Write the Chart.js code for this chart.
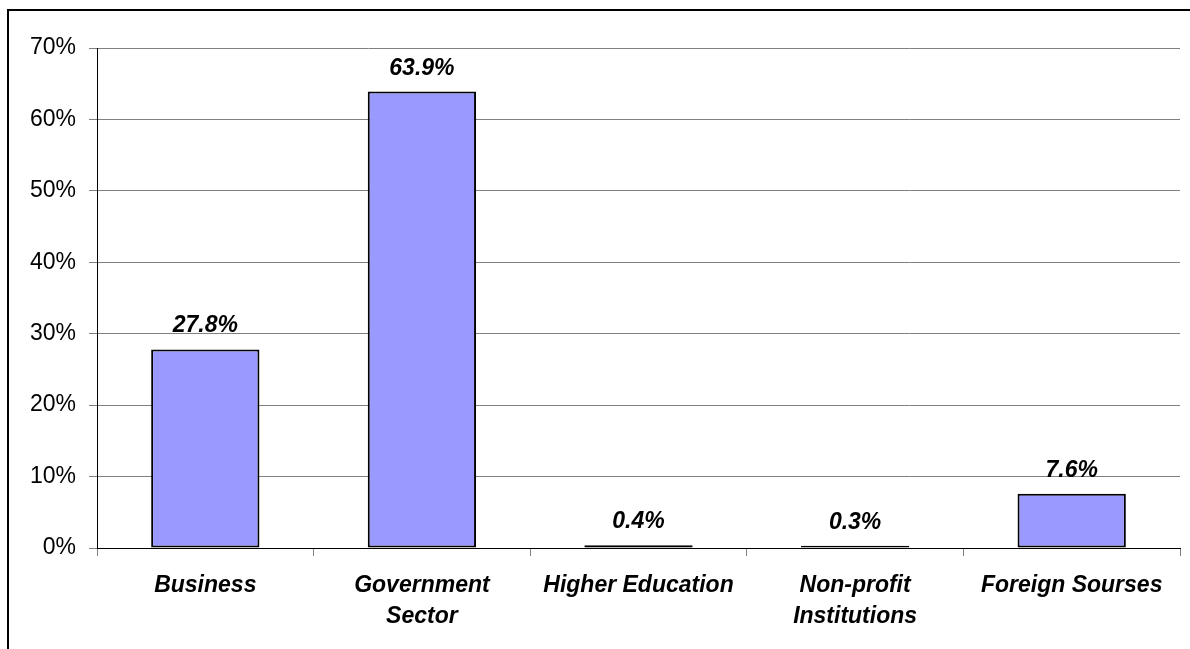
<!DOCTYPE html>
<html>
<head>
<meta charset="utf-8">
<script src="https://cdn.jsdelivr.net/npm/chart.js@4.4.1/dist/chart.umd.min.js"></script>
<style>
  html, body { margin: 0; padding: 0; background: #fff; }
  canvas { display: block; }
</style>
</head>
<body>
<canvas id="fundingchart" width="1190" height="649"></canvas>
<script>
'use strict';
//** Data */

let categories = [['Business'], ['Government', 'Sector'], ['Higher Education'], ['Non-profit', 'Institutions'], ['Foreign Sourses']];
let sharevalues = [27.8, 63.9, 0.4, 0.3, 7.6];
let ticklabels = ['0%', '10%', '20%', '30%', '40%', '50%', '60%', '70%'];

let fontname = '"Liberation Sans", Arial, sans-serif';

//** Plugins */

// outer frame, only left and top edges fall inside the picture
let framePlugin = {
  id: 'frame',
  beforeDraw(chart) {
    let c = chart.ctx;
    c.save();
    c.fillStyle = '#fff';
    c.fillRect(0, 0, chart.width, chart.height);
    c.strokeStyle = '#000';
    c.lineWidth = 2;
    c.beginPath();
    c.moveTo(8, chart.height + 10);
    c.lineTo(8, 10);
    c.lineTo(chart.width + 10, 10);
    c.stroke();
    c.restore();
  }
};

let valuelabelPlugin = {
  id: 'valuelabels',
  afterDatasetsDraw(chart) {
    let c = chart.ctx;
    let meta = chart.getDatasetMeta(0);
    c.save();
    c.font = 'italic bold 23px ' + fontname;
    c.fillStyle = '#000';
    c.textAlign = 'center';
    c.textBaseline = 'alphabetic';
    meta.data.forEach(function(bar, i) {
      c.fillText(sharevalues[i].toFixed(1) + '%', bar.x, bar.y - 17);
    });
    c.restore();
  }
};

//** Chart */

let ctx = document.getElementById('fundingchart');

let chartObj = {
  type: 'bar',
  data: {
    labels: categories,
    datasets: [{
      data: sharevalues,
      backgroundColor: '#9999ff',
      borderColor: '#000',
      borderWidth: 2,
      borderSkipped: false,
      barPercentage: 0.5,
      categoryPercentage: 1.0
    }]
  },
  options: {
    responsive: false,
    animation: false,
    devicePixelRatio: 1,
    layout: { padding: { top: 48, right: 10, left: 0, bottom: 0 } },
    plugins: {
      legend: { display: false },
      tooltip: { enabled: false }
    },
    scales: {
      x: {
        afterFit(scale) { scale.height = 101; },
        grid: {
          display: true,
          drawOnChartArea: false,
          drawTicks: true,
          tickLength: 8,
          color: '#808080',
          offset: true
        },
        border: { color: '#000', width: 1 },
        ticks: {
          color: '#000',
          padding: 14,
          maxRotation: 0,
          autoSkip: false,
          font: { family: fontname, size: 23, style: 'italic', weight: 'bold', lineHeight: 1.35 }
        }
      },
      y: {
        min: 0,
        max: 70,
        afterFit(scale) { scale.width = 97; },
        grid: {
          color: '#808080',
          tickLength: 8
        },
        border: { color: '#000', width: 1 },
        ticks: {
          stepSize: 10,
          color: '#000',
          padding: 13,
          font: { family: fontname, size: 23 },
          callback: function(value) {
            return ticklabels[Math.round(value / 10)];
          }
        }
      }
    }
  },
  plugins: [framePlugin, valuelabelPlugin]
};

let fundingchart = new Chart(ctx, chartObj);
</script>
</body>
</html>
